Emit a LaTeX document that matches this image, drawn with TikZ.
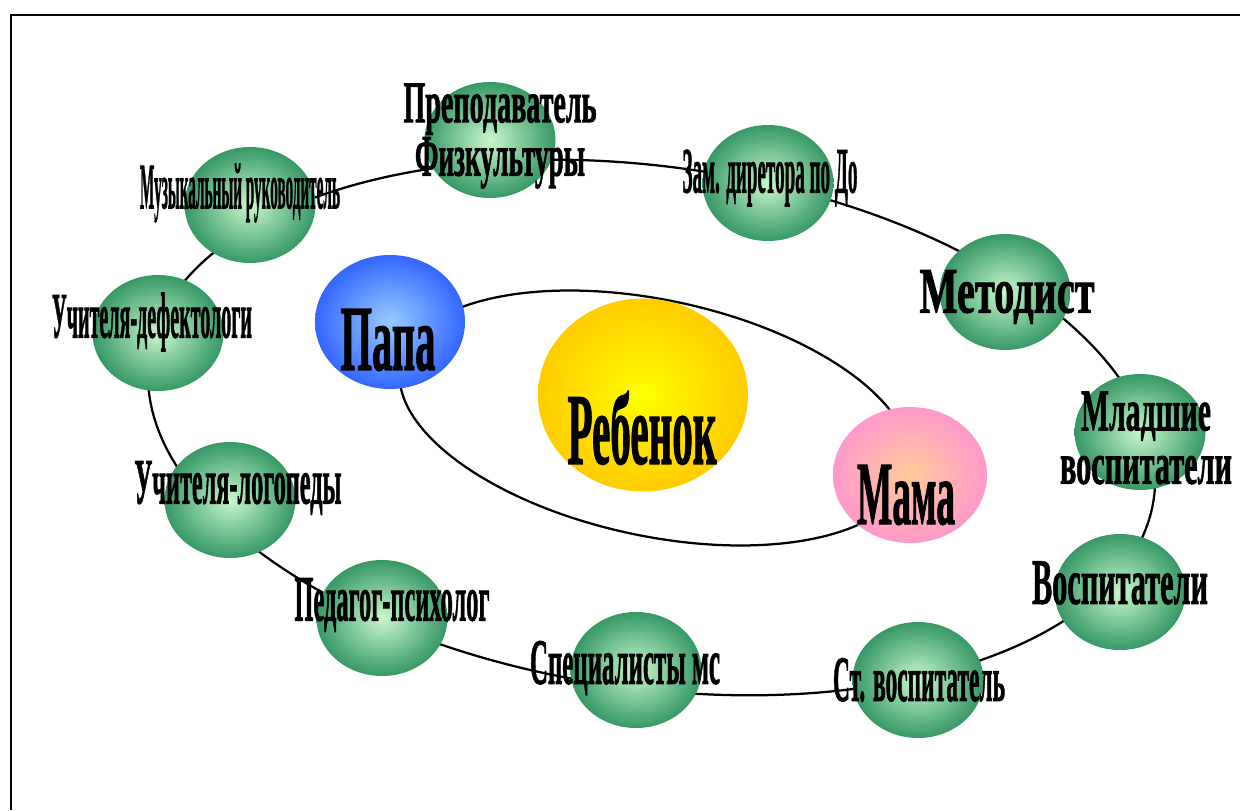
\documentclass[tikz,border=0pt]{standalone}
\usepackage{fontspec}
\setmainfont{Liberation Serif}
\newfontfamily\heavy[FakeBold=1.6]{Liberation Serif Bold}
\usepackage{graphicx}
\usetikzlibrary{shapes.geometric}
\definecolor{ballout}{HTML}{379866}
\definecolor{ballin}{HTML}{C8F8CC}
\definecolor{papaout}{HTML}{3366FF}
\definecolor{papain}{HTML}{99CCFF}
\definecolor{rebout}{HTML}{FFCC00}
\definecolor{rebin}{HTML}{FFFF00}
\definecolor{mamaout}{HTML}{FF99CC}
\definecolor{mamain}{HTML}{FFCC99}
% squeeze a word to a given width, keep its height
\newcommand{\wart}[2]{\resizebox{#1}{\height}{#2}}

\begin{document}
\begin{tikzpicture}[
    ball/.style={                           % Green balls on the outer orbit
        ellipse,
        inner color=ballin,
        outer color=ballout,
        minimum width=3.275cm,
        minimum height=2.9cm,
        inner sep=0pt
    },
    lbl/.style={                            % Condensed heavy words
        font=\heavy\fontsize{46}{33}\selectfont,
        align=center,
        inner sep=0pt
    },
    twoline/.style={                        % Two-line words
        font=\heavy\fontsize{42}{38}\selectfont
    },
    orbit/.style={line width=1.6pt}
]

\useasboundingbox (0,0) rectangle (31,20.25);

% Frame (only top and left edges are in view)
\draw[line width=1pt] (0.275,0) -- (0.275,19.875) -- (31,19.875);

% Orbits
\draw[orbit, rotate around={-8:(16.29,9.5625)}] (16.29,9.5625) ellipse [x radius=12.68, y radius=6.52];
\draw[orbit, rotate around={-12:(16.375,9.8)}] (16.375,9.8) ellipse [x radius=6.5, y radius=2.95];

% Outer orbit
\node[ball] (prep) at (12.25,16.75) {};
\node[ball] (muz) at (6.25,15.125) {};
\node[ball] (zam) at (19.2,15.675) {};
\node[ball] (met) at (25.125,12.95) {};
\node[ball] (mlad) at (28.5,9.45) {};
\node[ball] (vosp) at (28,5.45) {};
\node[ball] (stv) at (22.95,3.25) {};
\node[ball] (spec) at (15.9,3.5) {};
\node[ball] (ped) at (9.55,4.8) {};
\node[ball] (log) at (5.75,7.75) {};
\node[ball] (def) at (3.95,11.925) {};

\node[lbl, twoline] (prep-t) at (12.5,16.85) {\wart{4.825cm}{Преподаватель}\\\wart{4.25cm}{Физкультуры}};
\node[lbl] (muz-t) at (6,15.425) {\wart{5cm}{Музыкальный руководитель}};
\node[lbl] (zam-t) at (19.25,15.8) {\wart{4.375cm}{Зам. диретора по До}};
\node[lbl] (met-t) at (25.175,12.825) {\wart{4.375cm}{Методист}};
\node[lbl, twoline] (mlad-t) at (28.65,9.3) {\wart{3.25cm}{Младшие}\\\wart{4.3cm}{воспитатели}};
\node[lbl] (vosp-t) at (28,5.675) {\wart{4.4cm}{Воспитатели}};
\node[lbl] (stv-t) at (22.975,3.25) {\wart{4.3cm}{Ст. воспитатель}};
\node[lbl] (spec-t) at (15.625,3.55) {\wart{4.75cm}{Специалисты мс}};
\node[lbl] (ped-t) at (9.8,5.125) {\wart{4.875cm}{Педагог-психолог}};
\node[lbl] (log-t) at (5.95,8.05) {\wart{5.175cm}{Учителя-логопеды}};
\node[lbl] (def-t) at (3.8,12.2) {\wart{5cm}{Учителя-дефектологи}};

% Family
\node[ellipse, inner color=papain, outer color=papaout, minimum width=3.75cm, minimum height=3.35cm, inner sep=0pt] (papa) at (9.75,12.2) {};
\node[ellipse, inner color=rebin, outer color=rebout, minimum width=5.25cm, minimum height=4.825cm, inner sep=0pt] (reb) at (16.075,10.375) {};
\node[ellipse, inner color=mamain, outer color=mamaout, minimum width=3.85cm, minimum height=3.4cm, inner sep=0pt] (mama) at (22.75,8.375) {};

\node[lbl, font=\heavy\fontsize{66}{66}\selectfont] (papa-t) at (9.7,11.75) {\wart{2.375cm}{Папа}};
\node[lbl, font=\heavy\fontsize{72}{72}\selectfont] (reb-t) at (16.05,9.55) {\wart{3.725cm}{Ребенок}};
\node[lbl, font=\heavy\fontsize{64}{64}\selectfont] (mama-t) at (22.65,7.875) {\wart{2.45cm}{Мама}};

\end{tikzpicture}
\end{document}
